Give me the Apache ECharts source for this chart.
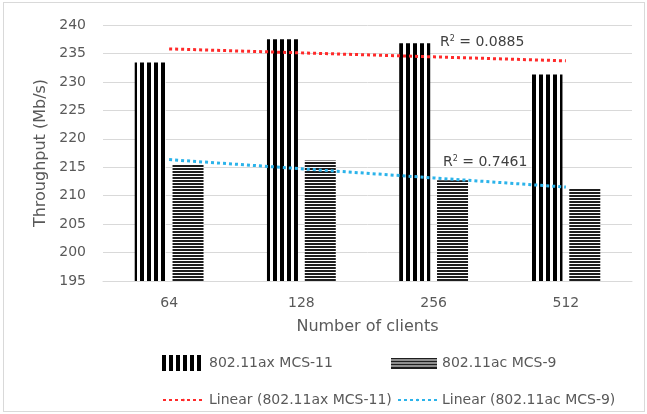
<!DOCTYPE html>
<html>
<head>
<meta charset="utf-8">
<script src="https://cdn.jsdelivr.net/npm/echarts@6/dist/echarts.min.js"></script>
<style>
  html, body { margin: 0; padding: 0; background: #fff; }
  #frame { position: absolute; left: 3px; top: 2px; width: 642px; height: 410px;
           border: 1px solid #d9d9d9; box-sizing: border-box; }
  #chart { position: absolute; left: 0; top: 0; width: 647px; height: 414px; }
</style>
</head>
<body>
<div id="frame"></div>
<div id="chart"></div>
<script>
// Throughput per client count for the two PHY configurations
const categories = ['64', '128', '256', '512'];
const axValues = [233.4, 237.5, 236.8, 231.3];   // 802.11ax MCS-11
const acValues = [215.5, 216.2, 212.7, 211.3];   // 802.11ac MCS-9
const axR2Label = '0.0885';
const acR2Label = '0.7461';
const yTicks = { min: 195, max: 240, step: 5 };

const AX = '802.11ax MCS-11';
const AC = '802.11ac MCS-9';
const AX_FIT = 'Linear (802.11ax MCS-11)';
const AC_FIT = 'Linear (802.11ac MCS-9)';

// Least-squares fit over category index, evaluated at every category
function linearFit(values) {
  const n = values.length;
  const xs = values.map((_, i) => i + 1);
  const mx = xs.reduce((a, b) => a + b, 0) / n;
  const my = values.reduce((a, b) => a + b, 0) / n;
  let sxy = 0, sxx = 0;
  for (let i = 0; i < n; i++) { sxy += (xs[i] - mx) * (values[i] - my); sxx += (xs[i] - mx) ** 2; }
  const slope = sxy / sxx;
  return xs.map(x => my + slope * (x - mx));
}

// Hatch fills: vertical dark stripes and fine horizontal lines
function stripeCanvas(w, h, draw) {
  const c = document.createElement('canvas');
  c.width = w; c.height = h;
  const g = c.getContext('2d');
  g.fillStyle = '#ffffff'; g.fillRect(0, 0, w, h);
  g.fillStyle = '#000000';
  draw(g);
  return c;
}
const vPattern = stripeCanvas(7, 8, g => g.fillRect(0, 0, 4, 8));
const hPattern = stripeCanvas(8, 3, g => { g.fillStyle = '#1e1e1e'; g.fillRect(0, 0, 8, 2); });

const vIcon = stripeCanvas(42, 16, g => { for (let x = 0; x < 42; x += 7) g.fillRect(x, 0, 4, 16); }).toDataURL();
const hIcon = stripeCanvas(46, 11, g => { g.fillStyle = '#1e1e1e'; for (let y = 0; y < 11; y += 3) g.fillRect(0, y, 46, 2); }).toDataURL();

const FONT = 'DejaVu Sans';
const GREY = '#595959';
const legendText = { color: GREY, fontSize: 14, fontFamily: FONT };

function legendAt(left, top, item, w, h) {
  return { left: left, top: top, itemWidth: w, itemHeight: h, textStyle: legendText, data: [item] };
}

function r2Text(value) {
  return {
    text: '{r|R}{s|2}{r| = ' + value + '}',
    rich: {
      r: { fontSize: 14, fill: '#404040', fontFamily: FONT },
      s: { fontSize: 8, fill: '#404040', verticalAlign: 'top', fontFamily: FONT }
    }
  };
}

const chart = echarts.init(document.getElementById('chart'), null, { renderer: 'canvas' });

chart.setOption({
  animation: false,
  backgroundColor: 'transparent',
  textStyle: { fontFamily: FONT },
  grid: { left: 103, right: 15, top: 25, bottom: 133 },
  xAxis: {
    type: 'category',
    data: categories,
    axisLine: { lineStyle: { color: '#d9d9d9', width: 1 } },
    axisTick: { show: false },
    axisLabel: { color: GREY, fontSize: 14, margin: 15, fontFamily: FONT },
    name: 'Number of clients',
    nameLocation: 'middle',
    nameGap: 38,
    nameTextStyle: { color: GREY, fontSize: 16, fontFamily: FONT }
  },
  yAxis: {
    type: 'value',
    min: yTicks.min, max: yTicks.max, interval: yTicks.step,
    axisLine: { show: false },
    axisTick: { show: false },
    splitLine: { lineStyle: { color: '#d9d9d9', width: 1 } },
    axisLabel: { color: GREY, fontSize: 14, margin: 17, fontFamily: FONT },
    name: 'Throughput (Mb/s)',
    nameLocation: 'middle',
    nameGap: 54,
    nameTextStyle: { color: GREY, fontSize: 16, fontFamily: FONT }
  },
  legend: [
    legendAt(157, 350, { name: AX, icon: 'image://' + vIcon }, 42, 16),
    legendAt(386, 351, { name: AC, icon: 'image://' + hIcon }, 46, 11),
    legendAt(157, 388, AX_FIT, 41, 3),
    legendAt(392, 388, AC_FIT, 39, 3)
  ],
  series: [
    {
      name: AX, type: 'bar', data: axValues,
      barWidth: 31, barGap: '22%',
      itemStyle: { color: { image: vPattern, repeat: 'repeat' } }
    },
    {
      name: AC, type: 'bar', data: acValues,
      barWidth: 31,
      itemStyle: { color: { image: hPattern, repeat: 'repeat' } }
    },
    {
      name: AX_FIT, type: 'line', data: linearFit(axValues),
      symbol: 'none', z: 5,
      lineStyle: { color: '#ff2a2a', width: 3, type: [3, 3] },
      itemStyle: { color: '#ff2a2a' }
    },
    {
      name: AC_FIT, type: 'line', data: linearFit(acValues),
      symbol: 'none', z: 5,
      lineStyle: { color: '#2bb3ea', width: 3, type: [3, 3] },
      itemStyle: { color: '#2bb3ea' }
    }
  ],
  graphic: [
    { type: 'text', left: 440, top: 35, z: 10, style: r2Text(axR2Label) },
    { type: 'text', left: 443, top: 155, z: 10, style: r2Text(acR2Label) }
  ]
});
</script>
</body>
</html>
